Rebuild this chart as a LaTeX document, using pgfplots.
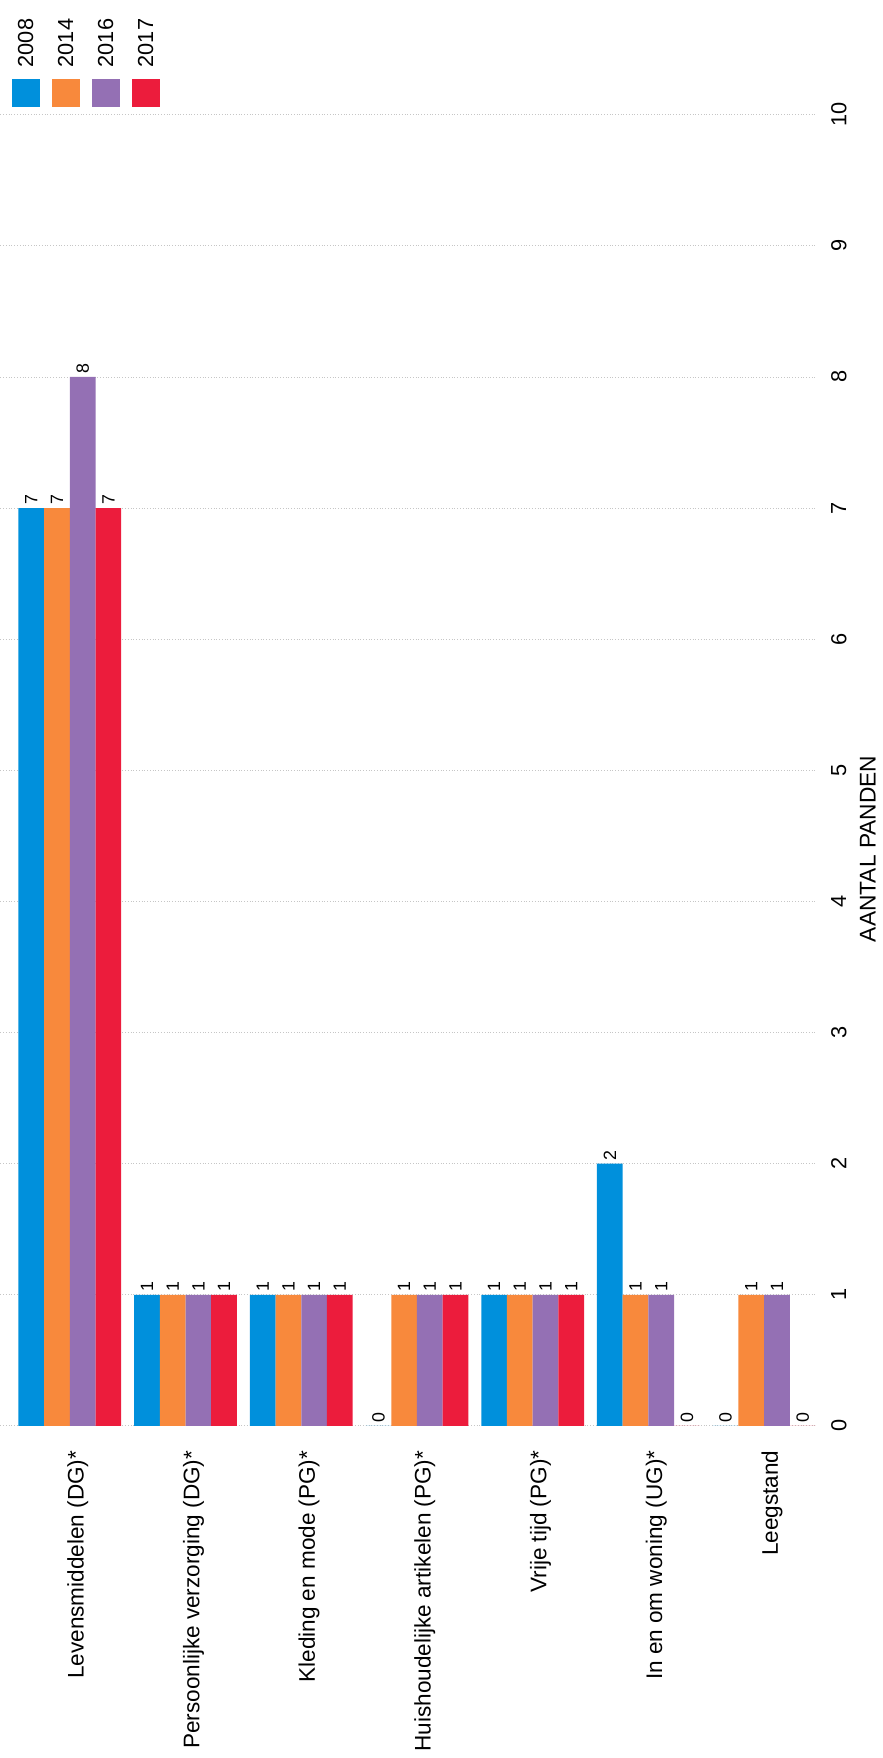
\documentclass[border=0pt]{standalone}
\usepackage{pgfplots}
\pgfplotsset{compat=1.18}
\usepackage{fontspec}
\setmainfont{Liberation Sans}
\definecolor{c08}{RGB}{0,144,220}
\definecolor{c14}{RGB}{248,137,60}
\definecolor{c16}{RGB}{148,112,180}
\definecolor{c17}{RGB}{236,28,60}
% legend swatch with the year written above it
\newcommand{\yearkey}[2]{\fill[#1] (0pt,-7pt) rectangle (14pt,7pt);
  \node[rotate=90, anchor=west, inner sep=0pt, font=\fontsize{11}{13}\selectfont] at (7.5pt,13pt) {#2};}
\begin{document}
\begin{tikzpicture}
\begin{axis}[
  name=ax,
  width=412.5pt, height=663pt, scale only axis,
  ybar=0pt, bar width=13pt,
  xmin=-0.6, xmax=6.45, ymin=0, ymax=10,
  xtick={0,...,6},
  xticklabels={Levensmiddelen (DG)*, Persoonlijke verzorging (DG)*, Kleding en mode (PG)*, Huishoudelijke artikelen (PG)*, Vrije tijd (PG)*, In en om woning (UG)*, Leegstand},
  xticklabel style={xshift=4pt, rotate=90, anchor=east, font=\fontsize{11.4}{13}\selectfont},
  xticklabel shift=9pt,
  ytick={0,...,10},
  yticklabel pos=right,
  yticklabel style={rotate=90, anchor=north, font=\fontsize{11}{13}\selectfont},
  yticklabel shift=4pt,
  /pgf/number format/assume math mode=true,
  ylabel={AANTAL PANDEN},
  ylabel style={at={(ticklabel cs:0.44)}, font=\fontsize{11.5}{13}\selectfont},
  axis line style={draw=none},
  major tick length=0pt,
  ymajorgrids, grid style={densely dotted, gray!45, line width=0.4pt},
  nodes near coords,
  every node near coord/.append style={rotate=90, anchor=west, font=\fontsize{9}{10}\selectfont, inner sep=1.5pt, black},
  legend columns=4,
  legend style={at={(rel axis cs:0,1)}, anchor=south west, xshift=6pt, yshift=4pt,
    draw=none, fill=none, inner sep=0pt, outer sep=0pt, column sep=2.6pt,
    nodes={inner sep=0pt}},
]
\addplot[fill=c08, draw=none, legend image code/.code={\yearkey{c08}{2008}}]
  coordinates {(0,7) (1,1) (2,1) (3,0) (4,1) (5,2) (6,0)};
\addplot[fill=c14, draw=none, legend image code/.code={\yearkey{c14}{2014}}]
  coordinates {(0,7) (1,1) (2,1) (3,1) (4,1) (5,1) (6,1)};
\addplot[fill=c16, draw=none, legend image code/.code={\yearkey{c16}{2016}}]
  coordinates {(0,8) (1,1) (2,1) (3,1) (4,1) (5,1) (6,1)};
\addplot[fill=c17, draw=none, legend image code/.code={\yearkey{c17}{2017}}]
  coordinates {(0,7) (1,1) (2,1) (3,1) (4,1) (5,0) (6,0)};
\legend{\mbox{},\mbox{},\mbox{},\mbox{}}
\end{axis}
\path ([yshift=58pt]ax.north west);
\end{tikzpicture}
\end{document}
